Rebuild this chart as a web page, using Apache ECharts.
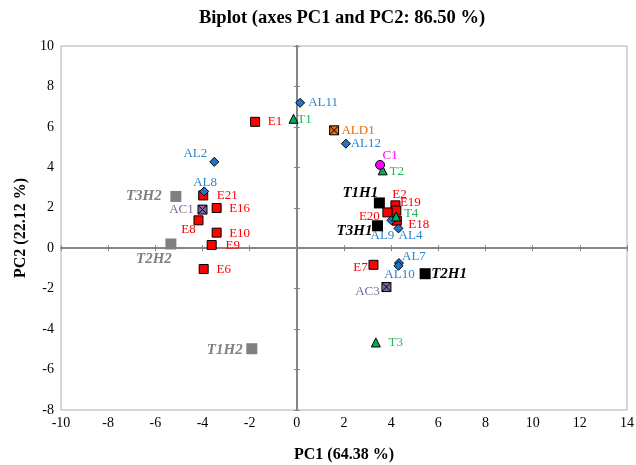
<!DOCTYPE html>
<html>
<head>
<meta charset="utf-8">
<script src="https://cdn.jsdelivr.net/npm/echarts@6/dist/echarts.min.js"></script>
<style>
  html, body { margin: 0; padding: 0; background: #fff; }
  #mychart { width: 636px; height: 465px; }
</style>
</head>
<body>
<div id="mychart"></div>
<script>
// data (PC1, PC2)
const eNames = ['E1', 'E2', 'E6', 'E7', 'E8', 'E9', 'E10', 'E16', 'E18', 'E19', 'E20', 'E21'];
const eXY = [[-1.77, 6.25], [4.18, 2.12], [-3.95, -1.03], [3.25, -0.82], [-4.17, 1.38], [-3.61, 0.16],
  [-3.40, 0.77], [-3.40, 1.99], [4.24, 1.36], [4.22, 1.86], [3.84, 1.77], [-3.97, 2.61]];
const alNames = ['AL2', 'AL4', 'AL7', 'AL8', 'AL9', 'AL10', 'AL11', 'AL12'];
const alXY = [[-3.50, 4.27], [4.31, 0.98], [4.33, -0.73], [-3.93, 2.81], [4.01, 1.38], [4.31, -0.87], [0.14, 7.19], [2.08, 5.17]];
const tNames = ['T1', 'T2', 'T3', 'T4'];
const tXY = [[-0.14, 6.40], [3.64, 3.85], [3.35, -4.66], [4.21, 1.57]];
const cNames = ['C1'];
const cXY = [[3.53, 4.12]];
const aldNames = ['ALD1'];
const aldXY = [[1.58, 5.83]];
const acNames = ['AC1', 'AC3'];
const acXY = [[-4.00, 1.91], [3.80, -1.92]];
const h1Names = ['T1H1', 'T2H1', 'T3H1'];
const h1XY = [[3.50, 2.24], [5.44, -1.26], [3.42, 1.11]];
const h2Names = ['T1H2', 'T2H2', 'T3H2'];
const h2XY = [[-1.91, -4.97], [-5.34, 0.21], [-5.13, 2.56]];

const xTicks = { min: -10, max: 14, interval: 2 };
const yTicks = { min: -8, max: 10, interval: 2 };

// label offset from marker centre, in px
const labelShift = {
  E1: [20, 0], E2: [4, -11], E6: [20, 1], E7: [-13, 3], E8: [-10, 9], E9: [21, 1], E10: [23, 1],
  E16: [23, 1], E18: [22, 4], E19: [14, -8], E20: [-18, 4], E21: [24, 0],
  AL2: [-19, -8], AL4: [12, 7], AL7: [15, -6], AL8: [1, -9], AL9: [-9, 15], AL10: [1, 9],
  AL11: [23, 0], AL12: [20, 0],
  T1: [11, 1], T2: [14, 1], T3: [20, 0], T4: [15, -3],
  C1: [10, -9], ALD1: [24, 0], AC1: [-21, 0], AC3: [-19, 5],
  T1H1: [-19, -10], T2H1: [24, 0], T3H1: [-23, 5],
  T1H2: [-27, 1], T2H2: [-17, 15], T3H2: [-32, 0]
};

const serif = '"Liberation Serif", "DejaVu Serif", serif';
const crossBox = 'path://M0,0L10,0L10,10L0,10Z M0,0L10,10 M10,0L0,10';

function makeSeries(names, xy, symbol, size, fill, textColor, bold) {
  return {
    type: 'scatter',
    symbol: symbol,
    symbolSize: size,
    itemStyle: { color: fill, borderColor: '#000', borderWidth: bold ? 0 : 1, opacity: 1 },
    label: {
      show: true,
      position: 'inside',
      formatter: '{b}',
      color: textColor,
      fontFamily: serif,
      fontSize: bold ? 15 : 13,
      fontWeight: bold ? 'bold' : 'normal',
      fontStyle: bold ? 'italic' : 'normal'
    },
    emphasis: { disabled: true },
    data: names.map((n, i) => ({
      name: n,
      value: xy[i],
      label: { offset: labelShift[n] }
    }))
  };
}

const zeroLine = { onZero: true, lineStyle: { color: '#858585', width: 2 } };

let option = {
  animation: false,
  title: {
    text: 'Biplot (axes PC1 and PC2: 86.50 %)',
    left: 337,
    textAlign: 'center',
    top: 4,
    textStyle: { fontFamily: serif, fontSize: 18.5, fontWeight: 'bold', color: '#000' }
  },
  grid: {
    left: 61, right: 9, top: 46, bottom: 55,
    outerBoundsMode: 'none',
    show: true, borderColor: '#b0b0b0', borderWidth: 1
  },
  xAxis: [
    {
      type: 'value', ...xTicks,
      axisLine: { show: false, onZero: false },
      axisTick: { show: false },
      splitLine: { show: false },
      axisLabel: { fontFamily: serif, fontSize: 14, color: '#000', margin: 6 },
      name: 'PC1 (64.38 %)',
      nameLocation: 'middle',
      nameGap: 37,
      nameTextStyle: { fontFamily: serif, fontSize: 16, fontWeight: 'bold', color: '#000' }
    },
    {
      type: 'value', ...xTicks,
      axisLine: zeroLine,
      axisTick: { inside: true, length: 3, lineStyle: { color: '#858585', width: 1 } },
      axisLabel: { show: false },
      splitLine: { show: false }
    },
    {
      type: 'value', ...xTicks,
      axisLine: zeroLine,
      axisTick: { inside: false, length: 3, lineStyle: { color: '#858585', width: 1 } },
      axisLabel: { show: false },
      splitLine: { show: false }
    }
  ],
  yAxis: [
    {
      type: 'value', ...yTicks,
      axisLine: { show: false, onZero: false },
      axisTick: { show: false },
      splitLine: { show: false },
      axisLabel: { fontFamily: serif, fontSize: 14, color: '#000', margin: 7 },
      name: 'PC2 (22.12 %)',
      nameLocation: 'middle',
      nameGap: 31,
      nameTextStyle: { fontFamily: serif, fontSize: 16, fontWeight: 'bold', color: '#000' }
    },
    {
      type: 'value', ...yTicks,
      axisLine: zeroLine,
      axisTick: { inside: true, length: 3, lineStyle: { color: '#858585', width: 1 } },
      axisLabel: { show: false },
      splitLine: { show: false }
    },
    {
      type: 'value', ...yTicks,
      axisLine: zeroLine,
      axisTick: { inside: false, length: 3, lineStyle: { color: '#858585', width: 1 } },
      axisLabel: { show: false },
      splitLine: { show: false }
    }
  ],
  series: [
    makeSeries(h2Names, h2XY, 'rect', 11, '#808080', '#808080', true),
    makeSeries(h1Names, h1XY, 'rect', 11, '#000', '#000', true),
    makeSeries(eNames, eXY, 'rect', 9, '#ff0000', '#ff0000', false),
    makeSeries(acNames, acXY, crossBox, 9, '#8064a2', '#8064a2', false),
    makeSeries(aldNames, aldXY, crossBox, 9, '#e46c0a', '#e46c0a', false),
    makeSeries(alNames, alXY, 'diamond', 9, '#1f74c4', '#2a86d1', false),
    makeSeries(tNames, tXY, 'triangle', 9, '#00b050', '#1db85a', false),
    makeSeries(cNames, cXY, 'circle', 9, '#ff00ff', '#ff00ff', false)
  ]
};

let myChart = echarts.init(document.getElementById('mychart'));
myChart.setOption(option);
</script>
</body>
</html>
